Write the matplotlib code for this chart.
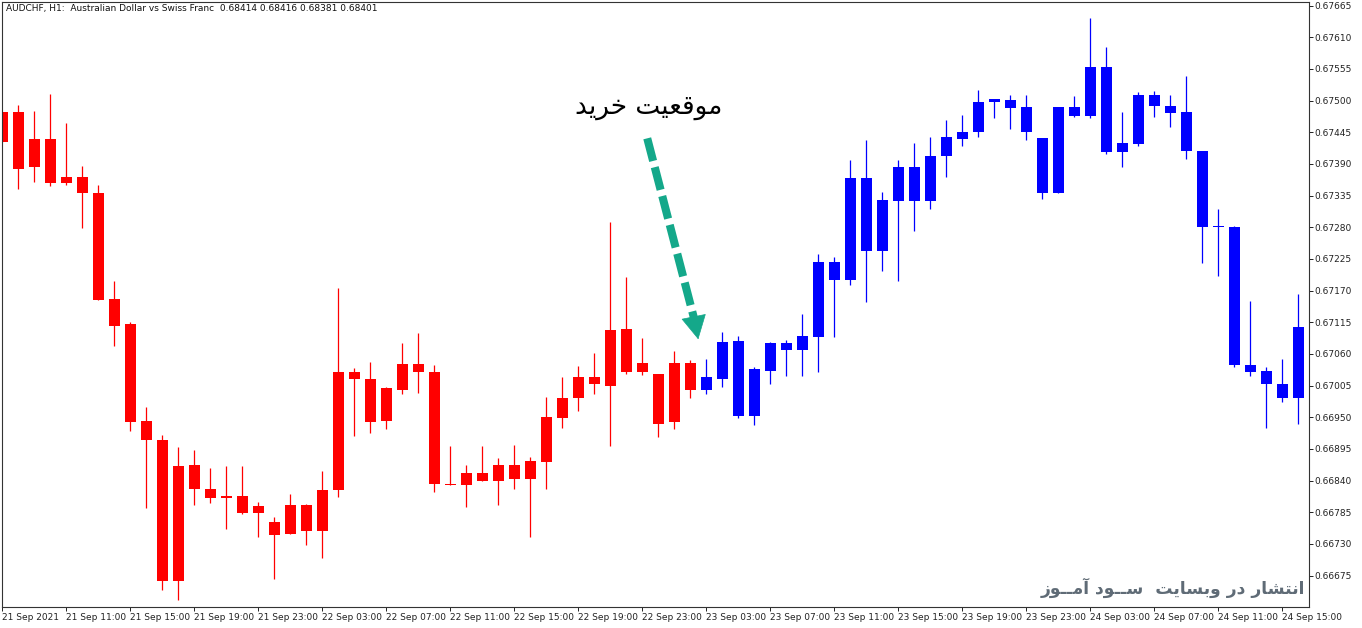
import numpy as np
import matplotlib
matplotlib.use("Agg")
from matplotlib import pyplot as plt

# AUDCHF H1 candles, 21 Sep 07:00 .. 24 Sep 16:00
opens = [0.67428, 0.67480, 0.67384, 0.67433, 0.67357, 0.67367, 0.67339, 0.67155, 0.67112, 0.66943,
         0.66910, 0.66666, 0.66867, 0.66825, 0.66809, 0.66814, 0.66783, 0.66768, 0.66748, 0.66797,
         0.66752, 0.66823, 0.67028, 0.67017, 0.66944, 0.66998, 0.67042, 0.67028, 0.66835, 0.66832,
         0.66853, 0.66839, 0.66867, 0.66842, 0.66873, 0.66949, 0.66983, 0.67020, 0.67005, 0.67104,
         0.67029, 0.67025, 0.66941, 0.67044, 0.66998, 0.67017, 0.67083, 0.66953, 0.67031, 0.67079,
         0.67067, 0.67090, 0.67220, 0.67189, 0.67366, 0.67238, 0.67326, 0.67385, 0.67326, 0.67403,
         0.67434, 0.67446, 0.67497, 0.67501, 0.67489, 0.67435, 0.67339, 0.67489, 0.67474, 0.67559,
         0.67411, 0.67424, 0.67510, 0.67490, 0.67480, 0.67412, 0.67281, 0.67280, 0.67040, 0.67030,
         0.67008, 0.66983]
highs = [0.67480, 0.67492, 0.67482, 0.67512, 0.67462, 0.67387, 0.67353, 0.67186, 0.67115, 0.66968,
         0.66919, 0.66898, 0.66893, 0.66862, 0.66865, 0.66866, 0.66803, 0.66777, 0.66817, 0.66800,
         0.66857, 0.67175, 0.67035, 0.67046, 0.67003, 0.67079, 0.67097, 0.67040, 0.66900, 0.66868,
         0.66900, 0.66880, 0.66902, 0.66881, 0.66985, 0.67020, 0.67039, 0.67062, 0.67289, 0.67193,
         0.67088, 0.67025, 0.67065, 0.67049, 0.67051, 0.67098, 0.67091, 0.67037, 0.67081, 0.67084,
         0.67129, 0.67234, 0.67228, 0.67397, 0.67431, 0.67342, 0.67397, 0.67426, 0.67437, 0.67466,
         0.67475, 0.67518, 0.67503, 0.67510, 0.67510, 0.67435, 0.67489, 0.67508, 0.67643, 0.67593,
         0.67480, 0.67515, 0.67516, 0.67510, 0.67542, 0.67413, 0.67312, 0.67283, 0.67152, 0.67037,
         0.67051, 0.67164]
lows = [0.67428, 0.67347, 0.67359, 0.67351, 0.67354, 0.67278, 0.67154, 0.67073, 0.66927, 0.66793,
        0.66650, 0.66633, 0.66798, 0.66801, 0.66756, 0.66782, 0.66742, 0.66669, 0.66748, 0.66728,
        0.66706, 0.66811, 0.66918, 0.66923, 0.66930, 0.66991, 0.66992, 0.66821, 0.66832, 0.66795,
        0.66839, 0.66798, 0.66826, 0.66742, 0.66825, 0.66932, 0.66961, 0.66991, 0.66900, 0.67026,
        0.67024, 0.66916, 0.66930, 0.66983, 0.66991, 0.67003, 0.66949, 0.66937, 0.67008, 0.67021,
        0.67022, 0.67028, 0.67090, 0.67180, 0.67150, 0.67204, 0.67186, 0.67274, 0.67311, 0.67367,
        0.67422, 0.67436, 0.67469, 0.67451, 0.67432, 0.67330, 0.67339, 0.67472, 0.67470, 0.67407,
        0.67385, 0.67422, 0.67472, 0.67455, 0.67398, 0.67218, 0.67196, 0.67037, 0.67022, 0.66932,
        0.66976, 0.66939]
closes = [0.67480, 0.67382, 0.67433, 0.67357, 0.67367, 0.67339, 0.67154, 0.67109, 0.66942, 0.66910,
          0.66666, 0.66865, 0.66826, 0.66809, 0.66813, 0.66783, 0.66796, 0.66746, 0.66797, 0.66752,
          0.66824, 0.67028, 0.67017, 0.66942, 0.67001, 0.67042, 0.67028, 0.66835, 0.66832, 0.66853,
          0.66839, 0.66867, 0.66842, 0.66874, 0.66951, 0.66983, 0.67020, 0.67007, 0.67101, 0.67029,
          0.67044, 0.66939, 0.67044, 0.66998, 0.67020, 0.67081, 0.66953, 0.67034, 0.67079, 0.67067,
          0.67091, 0.67220, 0.67189, 0.67366, 0.67238, 0.67328, 0.67385, 0.67325, 0.67403, 0.67437,
          0.67445, 0.67497, 0.67502, 0.67488, 0.67446, 0.67339, 0.67489, 0.67473, 0.67559, 0.67411,
          0.67426, 0.67510, 0.67490, 0.67479, 0.67413, 0.67281, 0.67280, 0.67040, 0.67029, 0.67008,
          0.66984, 0.67107]
buy_start = 44  # candles from here on are drawn blue

x_tick_pos = list(range(0, 81, 4))
x_tick_labels = ["21 Sep 2021", "21 Sep 11:00", "21 Sep 15:00", "21 Sep 19:00", "21 Sep 23:00",
                 "22 Sep 03:00", "22 Sep 07:00", "22 Sep 11:00", "22 Sep 15:00", "22 Sep 19:00",
                 "22 Sep 23:00", "23 Sep 03:00", "23 Sep 07:00", "23 Sep 11:00", "23 Sep 15:00",
                 "23 Sep 19:00", "23 Sep 23:00", "24 Sep 03:00", "24 Sep 07:00", "24 Sep 11:00",
                 "24 Sep 15:00"]
price_ticks = [0.67665, 0.67610, 0.67555, 0.67500, 0.67445, 0.67390, 0.67335, 0.67280, 0.67225,
               0.67170, 0.67115, 0.67060, 0.67005, 0.66950, 0.66895, 0.66840, 0.66785, 0.66730,
               0.66675]

title = "AUDCHF, H1:  Australian Dollar vs Swiss Franc  0.68414 0.68416 0.68381 0.68401"
buy_label = "موقعیت خرید"
watermark = "انتشار در وبسایت  ســود آمــوز"

RED = "#ff0000"
BLUE = "#0000ff"
TEAL = "#14a88a"

# matplotlib has no arabic shaping, so pick presentation forms by hand
AR_FORMS = {
    'ا': ('\ufe8d', '\ufe8e'),
    'آ': ('\ufe81', '\ufe82'),
    'د': ('\ufea9', '\ufeaa'),
    'ر': ('\ufead', '\ufeae'),
    'ز': ('\ufeaf', '\ufeb0'),
    'و': ('\ufeed', '\ufeee'),
    'ب': ('\ufe8f', '\ufe90', '\ufe91', '\ufe92'),
    'ت': ('\ufe95', '\ufe96', '\ufe97', '\ufe98'),
    'خ': ('\ufea5', '\ufea6', '\ufea7', '\ufea8'),
    'س': ('\ufeb1', '\ufeb2', '\ufeb3', '\ufeb4'),
    'ش': ('\ufeb5', '\ufeb6', '\ufeb7', '\ufeb8'),
    'ع': ('\ufec9', '\ufeca', '\ufecb', '\ufecc'),
    'ق': ('\ufed5', '\ufed6', '\ufed7', '\ufed8'),
    'م': ('\ufee1', '\ufee2', '\ufee3', '\ufee4'),
    'ن': ('\ufee5', '\ufee6', '\ufee7', '\ufee8'),
    'ی': ('\ufbfc', '\ufbfd', '\ufbfe', '\ufbff'),
    'ـ': ('\u0640',) * 4,
}


def shape_fa(text):
    out = []
    for i, ch in enumerate(text):
        forms = AR_FORMS.get(ch)
        if forms is None:
            out.append(ch)
            continue
        prev = AR_FORMS.get(text[i - 1]) if i > 0 else None
        nxt = AR_FORMS.get(text[i + 1]) if i + 1 < len(text) else None
        link_prev = prev is not None and len(prev) == 4
        link_next = nxt is not None and len(forms) == 4
        if link_prev and link_next:
            out.append(forms[3])
        elif link_prev:
            out.append(forms[1])
        elif link_next:
            out.append(forms[2])
        else:
            out.append(forms[0])
    return ''.join(reversed(out))


o = np.array(opens)
h = np.array(highs)
l = np.array(lows)
c = np.array(closes)
x = np.arange(len(o))
colors = [RED if i < buy_start else BLUE for i in x]

fig = plt.figure(figsize=(13.62, 6.28), dpi=100)
ax = fig.add_axes([2.3 / 1362, 21 / 628, 1307 / 1362, 605 / 628])

ax.vlines(x, l, h, colors=colors, linewidth=0.9)
body_lo = np.minimum(o, c)
body_h = np.maximum(np.abs(c - o), 0.000018)
ax.bar(x, body_h, bottom=body_lo, width=0.67, color=colors, linewidth=0)

ax.set_xlim(0, 81.69)
ax.set_ylim(0.666205, 0.676713)

ax.set_xticks(x_tick_pos)
ax.set_xticklabels(x_tick_labels)
for lbl in ax.get_xticklabels():
    lbl.set_ha("left")
ax.yaxis.tick_right()
ax.set_yticks(price_ticks)
ax.set_yticklabels([f"{p:.5f}" for p in price_ticks])
ax.tick_params(axis="both", direction="out", length=3, width=0.7, labelsize=6.5,
               pad=1, colors="#222222")
for sp in ax.spines.values():
    sp.set_linewidth(0.8)
    sp.set_color("#333333")

fig.text(6 / 1362, 1 - 9 / 628, title, fontsize=6.5, va="center", ha="left", color="#111111")

# buy annotation
ax.text(40.4, 0.67489, shape_fa(buy_label), fontsize=19, ha="center", va="center",
        color="black", family=["DejaVu Sans"])
ax.plot([40.31, 43.23], [0.674345, 0.671224], color=TEAL, linewidth=5.8,
        linestyle=(0, (2.9, 0.8)), dash_capstyle="butt", solid_capstyle="round")
ax.annotate("", xy=(43.5, 0.670854), xytext=(43.23, 0.671224),
            arrowprops=dict(arrowstyle="-|>,head_length=1.6,head_width=0.85",
                            color=TEAL, lw=0.5, shrinkA=0, shrinkB=0, mutation_scale=10))

ax.text(0.9967, 0.031, shape_fa(watermark), transform=ax.transAxes, fontsize=12.3,
        fontweight="bold", ha="right", va="center", color="#5f6b76", family=["DejaVu Sans"])

fig.savefig("out.png", dpi=100)
